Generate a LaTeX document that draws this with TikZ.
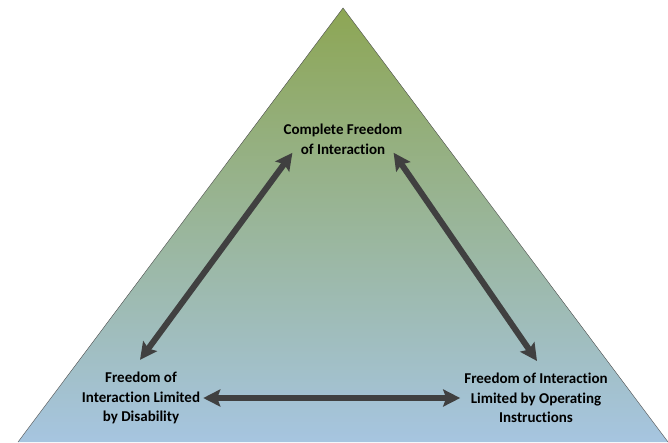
\documentclass[tikz,border=0pt]{standalone}
\usepackage{fontspec}
\setmainfont{Carlito}[Ligatures=NoCommon]
\usetikzlibrary{arrows.meta}

\definecolor{apexgreen}{RGB}{141,166,84}
\definecolor{midgreen}{RGB}{153,180,140}
\definecolor{baseblue}{RGB}{166,197,224}
\definecolor{arrowgray}{RGB}{64,64,64}

\tikzset{
	label/.style={align=center, inner sep=0pt, font=\bfseries\fontsize{15}{19.5}\selectfont},
	twoway/.style={line width=6pt, arrowgray, {Stealth[length=17pt,width=17pt,inset=3pt]}-{Stealth[length=17pt,width=17pt,inset=3pt]}}
}

\begin{document}
\begin{tikzpicture}[x=1pt, y=-1pt]
	\useasboundingbox (0,0) rectangle (668,442);
	
	% triangle
	\shade[top color=apexgreen, middle color=midgreen, bottom color=baseblue] (343,8) -- (668,442) -- (18,442) -- cycle;
	\draw[thin, gray!60!black] (18,442) -- (343,8) -- (668,442);
	
	% the three corners
	\node[label] (full) at (343,139.5) {Complete Freedom\\of Interaction};
	\node[label] (dis) at (141,398) {Freedom of\\Interaction Limited\\by Disability};
	\node[label] (ops) at (536,398) {Freedom of Interaction\\Limited by Operating\\Instructions};
	
	\draw[twoway] ([shift={(-1,-12)}]dis.north) -- ([shift={(9,-2)}]full.south west);
	\draw[twoway] ([shift={(-9,-2)}]full.south east) -- ([shift={(1,-12)}]ops.north);
	\draw[twoway] ([xshift=3pt]dis.east) -- ([xshift=-4pt]ops.west);
\end{tikzpicture}
\end{document}
